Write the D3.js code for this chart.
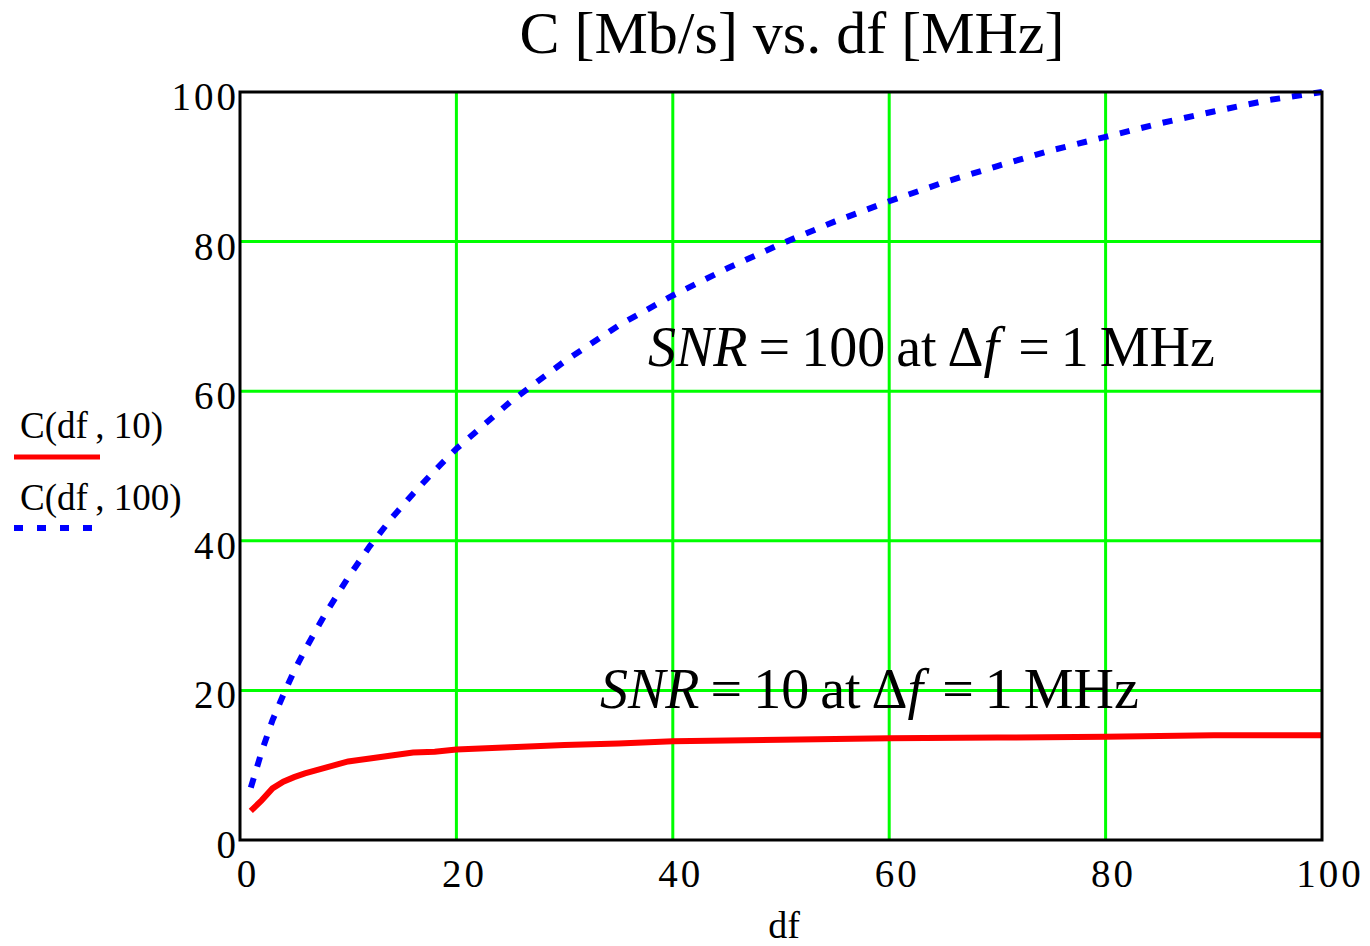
<!DOCTYPE html>
<html>
<head>
<meta charset="utf-8">
<script src="https://cdn.jsdelivr.net/npm/d3@7"></script>
<style>
  body { margin: 0; background: #fff; }
  text { font-family: "Liberation Serif", "Times New Roman", serif; fill: #000; }
</style>
</head>
<body>
<div id="container"></div>
<script>
/* DATA */
const dfRed = [1, 2, 3, 4, 5, 6, 7, 8, 9, 10, 12, 14, 16, 18, 20, 25, 30, 35, 40, 50, 60, 70, 80, 90, 100];
const cRed = [3.9, 5.3, 6.9, 7.8, 8.4, 8.9, 9.3, 9.7, 10.1, 10.5, 10.9, 11.3, 11.7, 11.8, 12.1, 12.4, 12.7, 12.9, 13.2, 13.4, 13.6, 13.7, 13.8, 14.0, 14.0];

const dfBlue = [1, 2, 3, 4, 5, 6, 7, 8, 9, 10, 12, 14, 16, 18, 20, 25, 30, 35, 40, 45, 50, 55, 60, 65, 70, 75, 80, 85, 90, 95, 100];
const cBlue = [7.0, 11.8, 16.0, 19.4, 22.6, 25.4, 28.0, 30.5, 32.8, 35.1, 39.3, 43.0, 46.3, 49.4, 52.3, 58.6, 64.0, 68.8, 72.8, 76.4, 79.7, 82.7, 85.4, 87.9, 90.1, 92.2, 94.0, 95.8, 97.4, 98.9, 100];

const xTicks = [0, 20, 40, 60, 80, 100];
const yTicks = [0, 20, 40, 60, 80, 100];

/* CONSTANTS */
const width = 1370, height = 946;
const plotLeft = 240, plotRight = 1322, plotTop = 92, plotBottom = 840;

const svg = d3.select("#container")
  .append("svg")
  .attr("width", width)
  .attr("height", height);

const xScale = d3.scaleLinear().domain([0, 100]).range([plotLeft, plotRight]);
const yScale = d3.scaleLinear().domain([0, 100]).range([plotBottom, plotTop]);

// grid
svg.append("g")
  .selectAll("line")
  .data(xTicks.slice(1, -1))
  .join("line")
  .attr("x1", d => xScale(d)).attr("x2", d => xScale(d))
  .attr("y1", plotTop).attr("y2", plotBottom)
  .attr("stroke", "#00ff00").attr("stroke-width", 3);

svg.append("g")
  .selectAll("line")
  .data(yTicks.slice(1, -1))
  .join("line")
  .attr("y1", d => yScale(d)).attr("y2", d => yScale(d))
  .attr("x1", plotLeft).attr("x2", plotRight)
  .attr("stroke", "#00ff00").attr("stroke-width", 3);

// curves
const line = d3.line()
  .x(d => xScale(d[0]))
  .y(d => yScale(d[1]));

svg.append("path")
  .datum(dfRed.map((d, i) => [d, cRed[i]]))
  .attr("d", line)
  .attr("fill", "none")
  .attr("stroke", "#ff0000")
  .attr("stroke-width", 6);

svg.append("path")
  .datum(dfBlue.map((d, i) => [d, cBlue[i]]))
  .attr("d", line)
  .attr("fill", "none")
  .attr("stroke", "#0000ff")
  .attr("stroke-width", 6)
  .attr("stroke-dasharray", "10,12");

// frame
svg.append("rect")
  .attr("x", plotLeft).attr("y", plotTop)
  .attr("width", plotRight - plotLeft).attr("height", plotBottom - plotTop)
  .attr("fill", "none")
  .attr("stroke", "#000").attr("stroke-width", 3);

// tick labels
svg.append("g")
  .selectAll("text")
  .data(yTicks)
  .join("text")
  .attr("x", plotLeft - 1)
  .attr("y", d => yScale(d) + 18)
  .attr("text-anchor", "end")
  .attr("font-size", 39)
  .attr("letter-spacing", 3)
  .text(d => d);

svg.append("g")
  .selectAll("text")
  .data(xTicks)
  .join("text")
  .attr("x", d => xScale(d) + 8)
  .attr("y", 887)
  .attr("text-anchor", "middle")
  .attr("font-size", 39)
  .attr("letter-spacing", 3)
  .text(d => d);

// axis title
svg.append("text")
  .attr("x", 784).attr("y", 938)
  .attr("text-anchor", "middle")
  .attr("font-size", 38)
  .text("df");

// chart title
svg.append("text")
  .attr("x", 792).attr("y", 53)
  .attr("text-anchor", "middle")
  .attr("font-size", 60)
  .text("C [Mb/s] vs. df [MHz]");

// legend
svg.append("text")
  .attr("x", 20).attr("y", 438)
  .attr("font-size", 37)
  .text("C(df\u2009, 10)");
svg.append("line")
  .attr("x1", 14).attr("x2", 100).attr("y1", 457).attr("y2", 457)
  .attr("stroke", "#ff0000").attr("stroke-width", 5);

svg.append("text")
  .attr("x", 20).attr("y", 510)
  .attr("font-size", 37)
  .text("C(df\u2009, 100)");
svg.append("line")
  .attr("x1", 14).attr("x2", 100).attr("y1", 528).attr("y2", 528)
  .attr("stroke", "#0000ff").attr("stroke-width", 6)
  .attr("stroke-dasharray", "9,14");

// annotations
const note = (x, y, snr) => {
  const t = svg.append("text")
    .attr("x", x).attr("y", y)
    .attr("font-size", 56)
    .attr("word-spacing", -3);
  t.append("tspan").attr("font-style", "italic").text("SNR");
  t.append("tspan").text(` = ${snr} at Δ`);
  t.append("tspan").attr("font-style", "italic").text("f");
  t.append("tspan").attr("dx", 8).text(" = 1 MHz");
};
note(648, 366, 100);
note(600, 708, 10);
</script>
</body>
</html>
